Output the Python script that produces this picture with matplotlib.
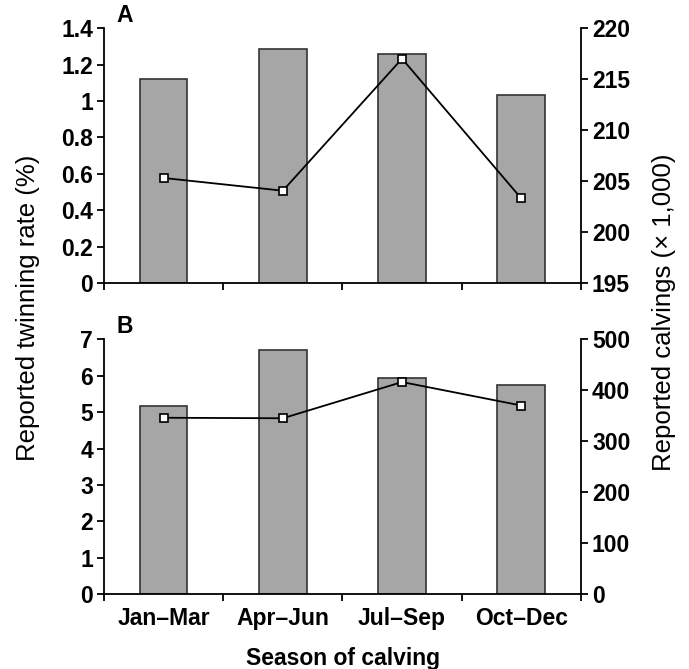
import matplotlib
matplotlib.use("Agg")
import matplotlib.pyplot as plt
import numpy as np

plt.rcParams['font.family'] = ['Liberation Sans', 'DejaVu Sans']

seasons = ['Jan\u2013Mar', 'Apr\u2013Jun', 'Jul\u2013Sep', 'Oct\u2013Dec']

# panel A
twin_a = [1.12, 1.285, 1.26, 1.035]
calv_a = [205.3, 204.05, 217.0, 203.3]

# panel B
twin_b = [5.17, 6.69, 5.93, 5.75]
calv_b = [346, 345, 416, 370]

x = np.arange(len(seasons))
FS = 16.5

fig = plt.figure(figsize=(6.89, 6.69), dpi=100)
ax_a = fig.add_axes([0.151, 0.577, 0.692, 0.381])
ax_b = fig.add_axes([0.151, 0.1117, 0.692, 0.3813])


def panel(ax, bars, line, ylim, yticks, ylim2, yticks2, letter, show_x):
    ax.bar(x, bars, width=0.4, color='#a6a6a6', edgecolor='#333333', linewidth=1.2, zorder=2)
    ax.set_xlim(-0.5, 3.5)
    ax.set_ylim(*ylim)
    ax.set_yticks(yticks)
    ax.set_yticklabels([f'{t:g}' for t in yticks])
    ax.set_xticks(np.arange(-0.5, 4.0, 1.0))
    ax.set_xticklabels([])
    ax.set_xticks(x, minor=True)
    ax.tick_params(axis='x', which='minor', length=0, pad=9)
    if show_x:
        ax.set_xticklabels(seasons, minor=True, fontsize=FS, fontweight='bold')
    ax.spines['top'].set_visible(False)
    ax.spines['right'].set_visible(False)
    for s in ['left', 'bottom']:
        ax.spines[s].set_linewidth(1.3)
    ax.tick_params(axis='both', which='major', direction='out', length=5, width=1.3,
                   labelsize=FS, pad=3)
    for lab in ax.get_yticklabels():
        lab.set_fontweight('bold')

    ax2 = ax.twinx()
    ax2.plot(x, line, color='black', linewidth=1.3, marker='s', markersize=6,
             markerfacecolor='white', markeredgecolor='black', markeredgewidth=1.2, zorder=3)
    ax2.set_ylim(*ylim2)
    ax2.set_yticks(yticks2)
    ax2.spines['top'].set_visible(False)
    ax2.spines['left'].set_visible(False)
    ax2.spines['bottom'].set_visible(False)
    ax2.spines['right'].set_linewidth(1.3)
    ax2.tick_params(axis='y', direction='out', length=5, width=1.3, labelsize=FS, pad=3)
    for lab in ax2.get_yticklabels():
        lab.set_fontweight('bold')

    ax.text(0.027, 1.005, letter, transform=ax.transAxes, fontsize=FS,
            fontweight='bold', va='bottom', ha='left')


panel(ax_a, twin_a, calv_a, (0, 1.4), [0, 0.2, 0.4, 0.6, 0.8, 1, 1.2, 1.4],
      (195, 220), [195, 200, 205, 210, 215, 220], 'A', False)
panel(ax_b, twin_b, calv_b, (0, 7), [0, 1, 2, 3, 4, 5, 6, 7],
      (0, 500), [0, 100, 200, 300, 400, 500], 'B', True)

fig.text(0.04, 0.54, 'Reported twinning rate (%)', rotation=90, fontsize=18.5,
         va='center', ha='center')
fig.text(0.964, 0.534, 'Reported calvings (\u00d7 1,000)', rotation=90, fontsize=18.5,
         va='center', ha='center')
fig.text(0.498, 0.016, 'Season of calving', fontsize=FS, fontweight='bold',
         va='center', ha='center')

fig.savefig('out.png', dpi=100)
